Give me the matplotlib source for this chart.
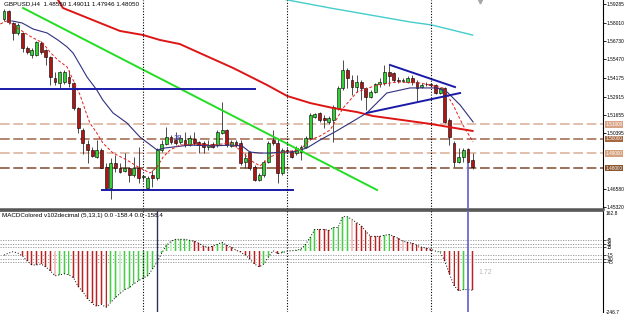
import numpy as np
import matplotlib.pyplot as plt
from matplotlib.transforms import blended_transform_factory

plt.rcParams['font.family'] = ['Liberation Sans Narrow', 'Liberation Sans', 'DejaVu Sans']

# GBPUSD H4 candles, oldest first
opens = [1.5825, 1.5880, 1.5798, 1.5729, 1.5729, 1.5626, 1.5578, 1.5578, 1.5660, 1.5612,
         1.5564, 1.5419, 1.5385, 1.5392, 1.5426, 1.5385, 1.5213, 1.5062, 1.4965, 1.4924,
         1.4876, 1.4924, 1.4807, 1.4663, 1.4835, 1.4800, 1.4780, 1.4800, 1.4752, 1.4800,
         1.4738, 1.4663, 1.4752, 1.4731, 1.4924, 1.4965, 1.5013, 1.4993, 1.4979, 1.4993,
         1.4958, 1.5000, 1.4979, 1.4972, 1.4945, 1.4965, 1.4958, 1.5041, 1.5062, 1.4952,
         1.4979, 1.4972, 1.4841, 1.4910, 1.4807, 1.4718, 1.4752, 1.4841, 1.4993, 1.4972,
         1.4766, 1.4924, 1.4917, 1.4903, 1.4910, 1.4945, 1.5007, 1.5151, 1.5179, 1.5144,
         1.5117, 1.5130, 1.5213, 1.5351, 1.5474, 1.5406, 1.5357, 1.5392, 1.5351, 1.5289,
         1.5323, 1.5378, 1.5385, 1.5461, 1.5454, 1.5406, 1.5402, 1.5392, 1.5419, 1.5392,
         1.5357, 1.5378, 1.5375, 1.5371, 1.5316, 1.5351, 1.5130, 1.4972, 1.4841, 1.4876,
         1.4931, 1.4855]
highs = [1.5894, 1.5887, 1.5805, 1.5798, 1.5736, 1.5640, 1.5626, 1.5674, 1.5674, 1.5619,
         1.5571, 1.5461, 1.5468, 1.5474, 1.5474, 1.5392, 1.5220, 1.5075, 1.4993, 1.4945,
         1.4993, 1.4938, 1.4835, 1.4869, 1.4890, 1.4835, 1.4903, 1.4807, 1.4876, 1.4945,
         1.4752, 1.4745, 1.4786, 1.4938, 1.4993, 1.5082, 1.5027, 1.5048, 1.5027, 1.5048,
         1.5027, 1.5048, 1.4986, 1.4986, 1.4993, 1.4979, 1.5062, 1.5254, 1.5068, 1.4993,
         1.4993, 1.4993, 1.4903, 1.4917, 1.4821, 1.4766, 1.4855, 1.4986, 1.5062, 1.5007,
         1.4938, 1.4938, 1.4924, 1.4952, 1.4958, 1.5020, 1.5179, 1.5179, 1.5185, 1.5165,
         1.5158, 1.5234, 1.5364, 1.5543, 1.5488, 1.5440, 1.5440, 1.5406, 1.5357, 1.5337,
         1.5385, 1.5419, 1.5509, 1.5509, 1.5461, 1.5426, 1.5419, 1.5433, 1.5440, 1.5406,
         1.5385, 1.5392, 1.5385, 1.5378, 1.5357, 1.5357, 1.5144, 1.4986, 1.4938, 1.4938,
         1.4938, 1.4901]
lows = [1.5812, 1.5791, 1.5681, 1.5715, 1.5598, 1.5584, 1.5557, 1.5571, 1.5584, 1.5509,
        1.5371, 1.5371, 1.5344, 1.5378, 1.5357, 1.5199, 1.5041, 1.4896, 1.4835, 1.4876,
        1.4869, 1.4800, 1.4649, 1.4587, 1.4773, 1.4766, 1.4773, 1.4704, 1.4738, 1.4697,
        1.4718, 1.4649, 1.4669, 1.4718, 1.4910, 1.4958, 1.4965, 1.4958, 1.4965, 1.4945,
        1.4952, 1.4958, 1.4903, 1.4903, 1.4924, 1.4938, 1.4945, 1.5034, 1.4945, 1.4945,
        1.4945, 1.4821, 1.4800, 1.4786, 1.4711, 1.4711, 1.4738, 1.4835, 1.4958, 1.4697,
        1.4752, 1.4903, 1.4869, 1.4890, 1.4855, 1.4938, 1.4993, 1.5144, 1.5117, 1.5075,
        1.5103, 1.4979, 1.5199, 1.5337, 1.5351, 1.5302, 1.5323, 1.5268, 1.5199, 1.5282,
        1.5316, 1.5357, 1.5371, 1.5364, 1.5392, 1.5385, 1.5392, 1.5385, 1.5371, 1.5254,
        1.5351, 1.5364, 1.5364, 1.5309, 1.5309, 1.5110, 1.4958, 1.4807, 1.4835, 1.4841,
        1.4835, 1.4795]
closes = [1.5880, 1.5805, 1.5729, 1.5784, 1.5626, 1.5598, 1.5612, 1.5667, 1.5598, 1.5564,
          1.5426, 1.5392, 1.5461, 1.5461, 1.5385, 1.5213, 1.5075, 1.4972, 1.4924, 1.4883,
          1.4924, 1.4800, 1.4663, 1.4835, 1.4800, 1.4773, 1.4800, 1.4752, 1.4800, 1.4731,
          1.4745, 1.4731, 1.4731, 1.4924, 1.4965, 1.5013, 1.4979, 1.4972, 1.5007, 1.4958,
          1.5007, 1.4972, 1.4958, 1.4945, 1.4958, 1.4945, 1.5048, 1.5062, 1.4958, 1.4979,
          1.4958, 1.4835, 1.4869, 1.4800, 1.4718, 1.4752, 1.4841, 1.4972, 1.4972, 1.4766,
          1.4924, 1.4917, 1.4876, 1.4938, 1.4945, 1.5007, 1.5165, 1.5172, 1.5130, 1.5130,
          1.5144, 1.5220, 1.5351, 1.5474, 1.5419, 1.5357, 1.5392, 1.5351, 1.5289, 1.5323,
          1.5378, 1.5392, 1.5461, 1.5433, 1.5406, 1.5402, 1.5406, 1.5419, 1.5392, 1.5351,
          1.5371, 1.5375, 1.5371, 1.5316, 1.5351, 1.5117, 1.5013, 1.4841, 1.4876, 1.4924,
          1.4841, 1.4805]

# moving averages, (bar index, price) pairs
slow_ma_idx = [11.5, 12.7, 20.7, 25, 30, 33.6, 37.9, 42.2, 49.4, 56.7, 61, 66, 70.9, 76.1, 79.5, 87.5, 92, 101]
slow_ma = [1.5965, 1.5901, 1.5798, 1.5743, 1.5715, 1.5681, 1.5653, 1.5591, 1.5488, 1.5371,
           1.5296, 1.5247, 1.5213, 1.5185, 1.5158, 1.5123, 1.5103, 1.5055]
cyan_ma_idx = [60.5, 70.3, 78.9, 87.5, 92.2, 101]
cyan_ma = [1.5960, 1.5901, 1.5853, 1.5805, 1.5784, 1.5715]
navy_ma_idx = [1.7, 3.9, 6.3, 9.3, 11.6, 13.6, 14.9, 16.4, 17.9, 20, 21.3, 23.5, 26.5, 29.3, 33,
               34.7, 40.1, 45, 48.7, 51.3, 53, 55.2, 57.3, 60.1, 62.3, 65.3, 68.1, 71.3, 74.6,
               78.2, 82.5, 87.5, 93.3, 95.5, 98.3, 101.1]
navy_ma = [1.5812, 1.5798, 1.5756, 1.5729, 1.5681, 1.5633, 1.5591, 1.5509, 1.5426, 1.5337,
           1.5268, 1.5179, 1.5110, 1.5013, 1.4924, 1.4938, 1.4958, 1.4952, 1.4958, 1.4952,
           1.4910, 1.4903, 1.4903, 1.4910, 1.4910, 1.4938, 1.4993, 1.5048, 1.5110, 1.5179,
           1.5316, 1.5351, 1.5351, 1.5323, 1.5234, 1.5117]
fast_ma_idx = [-0.8, 0.6, 5.2, 6.3, 8.4, 9.9, 11.6, 13.6, 14.9, 16.4, 17.5, 18.5, 20, 21.3,
               23.5, 26.5, 29.3, 31.5, 33, 34.3, 35.8, 37.9, 42.2, 45, 48.7, 50.9, 53, 55.2,
               57.3, 60.1, 63.8, 65.9, 68.1, 70.3, 73.1, 76.1, 80.4, 84.7, 89.7, 94.6, 96.8,
               98.9, 101.1]
fast_ma = [1.5791, 1.5812, 1.5715, 1.5695, 1.5660, 1.5598, 1.5543, 1.5495, 1.5406, 1.5302,
           1.5199, 1.5110, 1.5041, 1.4972, 1.4903, 1.4855, 1.4800, 1.4766, 1.4807, 1.4876,
           1.4924, 1.4958, 1.4965, 1.4958, 1.4972, 1.4924, 1.4855, 1.4814, 1.4876, 1.4910,
           1.4924, 1.4993, 1.5020, 1.5062, 1.5213, 1.5323, 1.5371, 1.5392, 1.5385, 1.5351,
           1.5234, 1.5096, 1.4979]

# drawn objects
green_trend_idx = [4.1, 80.4]
green_trend = [1.5901, 1.4649]
blue_lines = [([-1, 54.1], [1.5343, 1.5343]),
              ([21.1, 62.3], [1.4651, 1.4651]),
              ([83.2, 97.2], [1.5509, 1.5357]),
              ([78.2, 98.3], [1.5179, 1.5316])]
levels = [1.51, 1.50, 1.49, 1.48]
level_colors = ['#dcb4a0', '#a87058', '#dcb4a0', '#8b5a3c']
box_colors = ['#d8a488', '#a8683f', '#d4a07e', '#8b5530']
separators = [30, 61, 92]
price_ticks = [1.59285, 1.58010, 1.56730, 1.55470, 1.54175, 1.52915, 1.51655, 1.50395, 1.46580, 1.45320]

# MACD (5,13,1) histogram, signal period 1 so the dotted line sits on the bars
macd_hist = [-16, -8, -2, -8, -20, -40, -56, -56, -52, -64,
             -80, -100, -96, -92, -96, -108, -144, -164, -192, -212,
             -224, -216, -228, -208, -188, -172, -156, -148, -132, -120,
             -108, -100, -72, -44, -8, 24, 40, 48, 48, 48,
             44, 40, 32, 20, 16, 20, 28, 36, 24, 16,
             4, -4, -16, -32, -52, -64, -52, -24, 2, -10,
             -6, 0, 2, 4, 8, 28, 56, 88, 88, 88,
             84, 96, 96, 140, 140, 128, 116, 104, 80, 60,
             60, 60, 64, 68, 60, 52, 40, 36, 32, 24,
             16, 12, 8, 0, -4, -40, -92, -140, -160, -156,
             -156, -158.4]
macd_colors = ('----' + 'r' * 8 + 'g' * 3 + 'r' * 8 + 'g' * 18 + 'r' * 5 + 'g' * 2 + 'r' * 8
               + 'g' * 3 + 'r' + 'g' * 8 + 'r' * 3 + 'g' * 4 + 'r' * 7 + 'g' * 2 + 'r' * 10
               + 'g' + 'r' * 4 + 'g' + 'r' * 2)
macd_levels = [45, 30, 15, -15, -30, -45]

fig = plt.figure(figsize=(6.25, 3.14), dpi=100)
ax = fig.add_axes([0, 105 / 314, 603 / 625, 209 / 314])
ax2 = fig.add_axes([0, 2 / 314, 603 / 625, 101 / 314])

x = np.arange(len(opens))
o, h, l, c = map(np.array, (opens, highs, lows, closes))
up = c >= o

# price panel
for lv, col in zip(levels, level_colors):
    ax.axhline(lv, color=col, lw=1.2, ls=(0, (5.8, 2.2)), zorder=1)

ax.vlines(x, l, h, color='#303030', lw=0.6, zorder=3)
ax.bar(x[up], (c - o)[up], bottom=o[up], width=0.62, color='#35d035', edgecolor='black', lw=0.4, zorder=4)
ax.bar(x[~up], (o - c)[~up], bottom=c[~up], width=0.62, color='#b01515', edgecolor='black', lw=0.4, zorder=4)

ax.plot(slow_ma_idx, slow_ma, color='#dd1515', lw=1.4, zorder=5)
ax.plot(cyan_ma_idx, cyan_ma, color='#45cccc', lw=1.0, zorder=5)
ax.plot(navy_ma_idx, navy_ma, color='#303080', lw=0.8, zorder=5)
ax.plot(fast_ma_idx, fast_ma, color='#e02020', lw=0.7, ls=(0, (3, 2)), zorder=5)
ax.plot(green_trend_idx, green_trend, color='#22dd22', lw=1.4, zorder=5)
for bx, by in blue_lines:
    ax.plot(bx, by, color='#1a1aa8', lw=1.4, zorder=5)

ax.vlines(100, 1.44, l[100], color='#6a6ad8', lw=1.3, zorder=6)
ax.text(37.5, 1.5006, '38', color='#4848c8', fontsize=5.5, ha='center', va='center', zorder=6)

ax.set_xlim(-0.86, 129.1)
ax.set_ylim(1.45181, 1.59560)

ax.yaxis.tick_right()
ax.set_yticks(price_ticks)
ax.set_yticklabels([f'{t:.5f}' for t in price_ticks])
ax.tick_params(axis='y', labelsize=3.5, length=2, width=0.6, pad=0.8)
ax.set_xticks([])
for s in ('left', 'top'):
    ax.spines[s].set_visible(False)
ax.spines['right'].set_linewidth(0.8)
ax.spines['bottom'].set_color('#555555')
ax.spines['bottom'].set_linewidth(1.8)

trans = blended_transform_factory(ax.transAxes, ax.transData)
for lv, bc in zip(levels, box_colors):
    ax.text(1.004, lv, f'{lv:.5f}', transform=trans, fontsize=3.4, color='white', va='center',
            ha='left', clip_on=False, zorder=10,
            bbox=dict(boxstyle='square,pad=0.15', fc=bc, ec='none'))

ax.text(0.006, 0.995, 'GBPUSD,H4  1.48550 1.49011 1.47946 1.48050', transform=ax.transAxes,
        fontsize=4.5, va='top', ha='left', zorder=10)
ax.plot([102.6], [1.5952], marker='v', color='#a8a8a8', ms=3.5, clip_on=False, zorder=10)

# MACD panel
hist = np.array(macd_hist)
gm = np.array([ch == 'g' for ch in macd_colors])
rm = np.array([ch == 'r' for ch in macd_colors])
ax2.bar(x[gm], hist[gm], width=0.6, color='#c4f2c4', zorder=2)
ax2.bar(x[gm], hist[gm], width=0.2, color='#4cc84c', zorder=3)
ax2.bar(x[rm], hist[rm], width=0.6, color='#f2c4c4', zorder=2)
ax2.bar(x[rm], hist[rm], width=0.2, color='#b02525', zorder=3)
ax2.plot(x, hist, color='black', lw=0.7, ls=(0, (1, 2)), zorder=4)
for lv in macd_levels:
    ax2.axhline(lv, color='#909090', lw=0.6, ls=(0, (1.5, 1.5)), zorder=1)
ax2.axvline(33, color='#303060', lw=1.0, zorder=5)
ax2.axvline(100, color='#6a6ad8', lw=1.3, zorder=5)
ax2.text(102.2, -87, '1.72', color='#b8b8b8', fontsize=5, ha='left', va='center')

ax2.set_xlim(-0.86, 129.1)
ax2.set_ylim(-246.7, 162.8)
ax2.yaxis.tick_right()
ax2.set_yticks(macd_levels)
ax2.set_yticklabels([str(v) for v in macd_levels])
ax2.tick_params(axis='y', labelsize=3.3, length=2, width=0.5, pad=0.8)
ax2.set_xticks([])
for s in ('left', 'bottom'):
    ax2.spines[s].set_visible(False)
ax2.spines['right'].set_linewidth(0.8)
ax2.spines['top'].set_color('#555555')
ax2.spines['top'].set_linewidth(1.2)
ax2.text(1.005, 1.0, '162.8', transform=ax2.transAxes, fontsize=3.5, va='top', ha='left')
ax2.text(1.005, 0.0, '-246.7', transform=ax2.transAxes, fontsize=3.5, va='center', ha='left')
ax2.text(0.004, 0.985, 'MACDColored v102decimal (5,13,1) 0.0 -158.4 0.0 -158.4',
         transform=ax2.transAxes, fontsize=4.5, va='top', ha='left')

for a in (ax, ax2):
    for sx in separators:
        a.axvline(sx, color='black', lw=0.8, ls=(0, (1, 1.5)), zorder=6)

fig.savefig('out.png', dpi=100)
